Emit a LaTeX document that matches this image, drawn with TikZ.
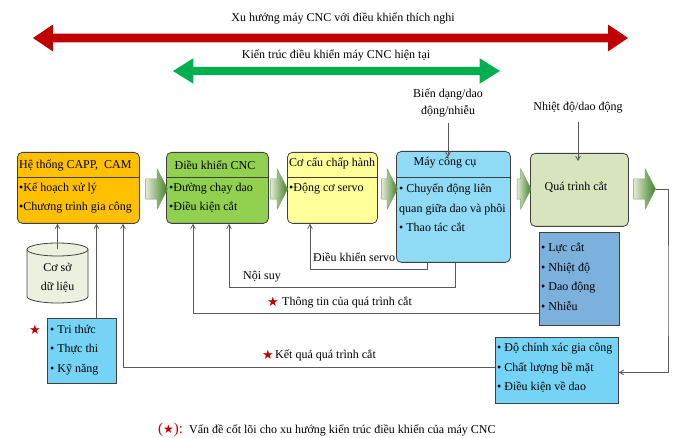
\documentclass[tikz,border=0pt]{standalone}
\usepackage{fontspec}
\setmainfont{Liberation Serif}
\newfontfamily\symfont{DejaVu Sans}
\usepackage{tikz}
\usetikzlibrary{arrows,shapes.arrows,shapes.geometric,positioning}

\definecolor{trendred}{HTML}{C00000}
\definecolor{nowgreen}{HTML}{00B050}
\definecolor{boxline}{HTML}{404040}
\definecolor{linkgray}{HTML}{595959}
\definecolor{capporange}{HTML}{FFC000}
\definecolor{cncgreen}{HTML}{92D050}
\definecolor{actyellow}{HTML}{FFFF99}
\definecolor{machblue}{HTML}{8FDBF5}
\definecolor{cutgreen}{HTML}{D7E4BD}
\definecolor{forceblue}{HTML}{7DB1DD}
\definecolor{infocyan}{HTML}{75D3F5}
\definecolor{dbgreen}{HTML}{EBF1DE}
\definecolor{flowlight}{HTML}{E2EAD6}
\definecolor{flowdark}{HTML}{3F7F22}

\begin{document}
\begin{tikzpicture}[x=1pt,y=-1pt,>=angle 60,auto]
\tikzstyle{every node}=[inner sep=0pt]
\tikzset{font=\fontsize{12pt}{19.5pt}\selectfont}
\tikzstyle{box}=[draw=boxline,line width=0.8pt,rounded corners=5pt,anchor=north west]
\tikzstyle{sqbox}=[draw=boxline,line width=0.8pt,anchor=north west]
\tikzstyle{txt}=[anchor=west,align=left]
\tikzstyle{flow}=[single arrow,single arrow head extend=10pt,single arrow tip angle=125,
                  inner ysep=10pt,left color=flowlight,right color=flowdark,
                  draw=flowdark!70,line width=0.4pt]
\tikzstyle{link}=[draw=linkgray,line width=0.8pt,->]
\tikzstyle{redstar}=[text=trendred,font=\symfont\fontsize{13pt}{13pt}\selectfont]
\tikzstyle{dbend}=[x radius=30.5pt,y radius=6.5pt]

\useasboundingbox (0,0) rectangle (678,438);

        % trend arrows on top
        \node[double arrow,fill=trendred,double arrow head extend=9pt,double arrow tip angle=68,
              inner ysep=4.25pt,minimum height=595pt] (trend) at (330.5,38) {};
        \node (trendlbl) at (343,18) {Xu hướng máy CNC với điều khiển thích nghi};
        \node[double arrow,fill=nowgreen,double arrow head extend=8.5pt,double arrow tip angle=64,
              inner ysep=4pt,minimum height=327pt] (now) at (336.5,71) {};
        \node (nowlbl) at (336,55) {Kiến trúc điều khiển máy CNC hiện tại};

        % main chain
        \node[box,fill=capporange,minimum width=122pt,minimum height=71pt] (b1) at (17,152) {};
        \node[box,fill=cncgreen,minimum width=102pt,minimum height=71pt]   (b2) at (166,152) {};
        \node[box,fill=actyellow,minimum width=90pt,minimum height=71pt]   (b3) at (287,152) {};
        \node[box,fill=machblue,minimum width=114pt,minimum height=111pt]  (b4) at (396,151) {};
        \node[box,fill=cutgreen,minimum width=98pt,minimum height=73pt]    (b5) at (530,153) {};

        \foreach \b in {b1,b2,b3}
          \draw[boxline,line width=0.8pt] ([yshift=-25pt]\b.north west) -- ([yshift=-25pt]\b.north east);
        \draw[boxline,line width=0.8pt] ([yshift=-26pt]b4.north west) -- ([yshift=-26pt]b4.north east);

        \node[txt] (b1h) at (19,165) {Hệ thống CAPP,\ \ CAM};
        \node[txt] (b1t) at (19,198) {•Kế hoạch xử lý\\•Chương trình gia công};
        \node (b2h) at (215,165) {Điều khiển CNC};
        \node[txt] (b2t) at (169,198) {•Đường chạy dao\\•Điều kiện cắt};
        \node[txt] (b3h) at (289,163) {Cơ cấu chấp hành};
        \node[txt] (b3t) at (289,189) {•Động cơ servo};
        \node (b4h) at (445,163) {Máy công cụ};
        \node[txt] (b4t) at (399,208) {• Chuyển động liên\\quan giữa dao và phôi\\• Thao tác cắt};
        \node (b5h) at (576,187) {Quá trình cắt};

        \node[flow,minimum height=22pt] (a1) at (154,189) {};
        \node[flow,minimum height=17pt] (a2) at (276.5,189) {};
        \node[flow,minimum height=16pt] (a3) at (387,189) {};
        \node[flow,minimum height=14pt] (a4) at (521.5,189) {};
        \node[flow,minimum height=22pt] (a5) at (642,189) {};

        % disturbances
        \node[align=center,font=\fontsize{12pt}{17pt}\selectfont] (bien) at (448,103) {Biến dạng/dao\\động/nhiễu};
        \node (nhiet) at (578,108) {Nhiệt độ/dao động};

        % database drum
        \draw[boxline,line width=0.8pt,fill=dbgreen] (27,249.5) -- (27,296.5)
              arc[start angle=180,end angle=360,dbend] -- (88,249.5)
              arc[start angle=0,end angle=180,dbend] -- cycle;
        \draw[boxline,line width=0.8pt] (27,249.5) arc[start angle=180,end angle=360,dbend];
        \node[align=center] (db) at (57.5,278) {Cơ sở\\dữ liệu};

        % side boxes
        \node[sqbox,fill=infocyan,minimum width=69pt,minimum height=65pt] (tri) at (47,318) {};
        \node[txt] (trit) at (50,350) {• Tri thức\\• Thực thi\\• Kỹ năng};
        \node[redstar] (s1) at (35,330) {★};
        \node[sqbox,fill=forceblue,minimum width=80pt,minimum height=93pt] (force) at (539,232) {};
        \node[txt] (forcet) at (541,276.5) {• Lực cắt\\• Nhiệt độ\\• Dao động\\• Nhiễu};
        \node[sqbox,fill=infocyan,minimum width=123pt,minimum height=66pt] (acc) at (495,337) {};
        \node[txt] (acct) at (497,368) {• Độ chính xác gia công\\• Chất lượng bề mặt\\• Điều kiện về dao};

        % feedback labels
        \node[txt] (servo) at (313,257) {Điều khiển servo};
        \node[txt] (noisuy) at (243,277) {Nội suy};
        \node[redstar] (s2) at (273,302) {★};
        \node[txt] (info) at (282,302) {Thông tin của quá trình cắt};
        \node[redstar] (s3) at (268,355) {★};
        \node[txt] (result) at (275,355) {Kết quả quá trình cắt};

        \node[txt] (note) at (158,430) {{\color{trendred}\fontsize{15pt}{15pt}\selectfont(\symfont\fontsize{12pt}{12pt}\selectfont★\fontsize{15pt}{15pt}\selectfont\rmfamily):}\ \ Vấn đề cốt lõi cho xu hướng kiến trúc điều khiển của máy CNC};

        % connectors
        \coordinate (loop) at (668,300);
        \coordinate (dbtop) at (57.5,249.5);
        \coordinate (tritop) at ([xshift=14.5pt]tri.north);
        \draw[link] ([yshift=-6pt]bien.south) -- ([yshift=-6pt]bien.south |- b4.north);
        \draw[link] ([yshift=-8pt]nhiet.south) -- ([yshift=-8pt]nhiet.south |- b5.north);
        \draw[link] (dbtop) -- (dbtop |- b1.south);
        \draw[link] (tritop) -- (tritop |- b1.south);
        \draw[link] (a5.tip) -| (loop) |- ([yshift=-2pt]acc.east);
        \draw[link] ([yshift=3pt]acc.west) -| ([xshift=106pt]b1.south west);
        \draw[link] ([yshift=-35pt]force.west) -| ([xshift=27pt]b2.south west);
        \draw[link] ([xshift=59pt]b4.south west) -- ++(0,25) -| ([xshift=63pt]b2.south west);
        \draw[link] ([xshift=31pt]b4.south west) -- ++(0,7) -| ([xshift=23pt]b3.south west);

\end{tikzpicture}
\end{document}
